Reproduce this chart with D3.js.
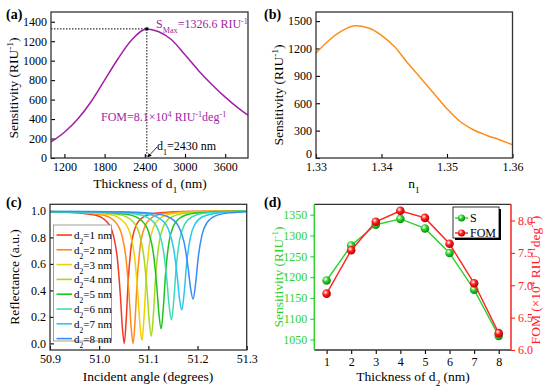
<!DOCTYPE html>
<html>
<head>
<meta charset="utf-8">
<script src="https://cdn.jsdelivr.net/npm/d3@7"></script>
<style>
  body { margin: 0; background: #fff; }
  svg, svg text { font-family: "Liberation Serif", "Times New Roman", serif; }
</style>
</head>
<body>
<svg id="fig" width="550" height="389"></svg>
<script>
// ---- (a) sensitivity vs thickness of d1
var thickD1 = [1000, 1200, 1400, 1600, 1800, 2000, 2200, 2430, 2600, 2800, 3000, 3200, 3400, 3600, 3800, 3940];
var sensD1  = [165, 265, 400, 580, 800, 1020, 1210, 1326.6, 1300, 1215, 1060, 900, 755, 625, 510, 440];
var ticksAx = [1200, 1800, 2400, 3000, 3600];
var ticksAy = [0, 200, 400, 600, 800, 1000, 1200, 1400];

// ---- (b) sensitivity vs n1
var n1     = [1.33, 1.332, 1.334, 1.336, 1.338, 1.340, 1.342, 1.344, 1.346, 1.348, 1.350, 1.352, 1.354, 1.356, 1.358, 1.36];
var sensN1 = [1150, 1290, 1395, 1448, 1425, 1345, 1220, 1040, 875, 708, 539, 400, 310, 250, 200, 146];
var ticksBx = [1.33, 1.34, 1.35, 1.36];
var ticksBy = [0, 300, 600, 900, 1200, 1500];

// ---- (c) reflectance curves, one per d2
var d2Labels = ["1", "2", "3", "4", "5", "6", "7", "8"];
var reflAngle = [
  [50.9, 50.931, 50.991, 51.016, 51.029, 51.037, 51.043, 51.047, 51.051, 51.055, 51.059, 51.065, 51.073, 51.086, 51.111, 51.171, 51.3],
  [50.9, 50.9454, 51.0072, 51.0329, 51.0463, 51.0546, 51.0608, 51.0649, 51.069, 51.0731, 51.0772, 51.0834, 51.0917, 51.1051, 51.1308, 51.1926, 51.3],
  [50.9, 50.9598, 51.0234, 51.0499, 51.0637, 51.0722, 51.0785, 51.0828, 51.087, 51.0912, 51.0955, 51.1018, 51.1103, 51.1241, 51.1506, 51.2142, 51.3],
  [50.9, 50.9752, 51.0406, 51.0678, 51.082, 51.0907, 51.0973, 51.1016, 51.106, 51.1104, 51.1147, 51.1213, 51.13, 51.1442, 51.1714, 51.2368, 51.3],
  [50.9, 50.9904, 51.0582, 51.0864, 51.1011, 51.1102, 51.117, 51.1215, 51.126, 51.1305, 51.135, 51.1418, 51.1509, 51.1656, 51.1938, 51.2616, 51.3],
  [50.9, 51.0054, 51.0762, 51.1057, 51.121, 51.1305, 51.1376, 51.1423, 51.147, 51.1517, 51.1564, 51.1635, 51.173, 51.1883, 51.2178, 51.2886, 51.3],
  [50.9, 51.0192, 51.0936, 51.1246, 51.1407, 51.1506, 51.1581, 51.163, 51.168, 51.173, 51.1779, 51.1854, 51.1953, 51.2114, 51.2424, 51.3],
  [50.9, 51.035, 51.113, 51.1455, 51.1624, 51.1728, 51.1806, 51.1858, 51.191, 51.1962, 51.2014, 51.2092, 51.2196, 51.2365, 51.269, 51.3]
];
var reflValue = [
  [0.990, 0.990, 0.970, 0.917, 0.814, 0.640, 0.367, 0.127, 0.000, 0.181, 0.470, 0.731, 0.870, 0.944, 0.980, 0.995, 0.999],
  [0.991, 0.990, 0.970, 0.917, 0.814, 0.640, 0.367, 0.127, 0.000, 0.181, 0.470, 0.731, 0.870, 0.944, 0.980, 0.995, 0.999],
  [0.991, 0.990, 0.971, 0.919, 0.818, 0.648, 0.381, 0.146, 0.022, 0.199, 0.482, 0.737, 0.873, 0.945, 0.980, 0.995, 0.998],
  [0.992, 0.991, 0.972, 0.922, 0.824, 0.660, 0.402, 0.175, 0.055, 0.226, 0.499, 0.746, 0.877, 0.947, 0.981, 0.995, 0.998],
  [0.993, 0.992, 0.973, 0.926, 0.835, 0.680, 0.437, 0.223, 0.110, 0.271, 0.528, 0.761, 0.884, 0.950, 0.982, 0.996, 0.998],
  [0.994, 0.992, 0.975, 0.932, 0.847, 0.704, 0.479, 0.282, 0.177, 0.326, 0.564, 0.779, 0.893, 0.954, 0.984, 0.996, 0.997],
  [0.995, 0.993, 0.978, 0.938, 0.861, 0.731, 0.527, 0.347, 0.252, 0.387, 0.604, 0.799, 0.903, 0.958, 0.985, 0.997],
  [0.996, 0.994, 0.980, 0.945, 0.876, 0.760, 0.578, 0.419, 0.334, 0.455, 0.647, 0.821, 0.913, 0.963, 0.987, 0.994]
];
var d2Colors = ["#f53a22", "#ff8a1e", "#f2d000", "#a6d81e", "#1ec41e", "#3cdcb4", "#2cc6f2", "#3a8cf0"];
var ticksCx = [50.9, 51.0, 51.1, 51.2, 51.3];
var ticksCy = [0, 0.2, 0.4, 0.6, 0.8, 1.0];

// ---- (d) S and FOM vs thickness of d2
var thickD2 = [1, 2, 3, 4, 5, 6, 7, 8];
var sensD2  = [1192, 1276, 1326, 1340, 1317, 1258, 1170, 1059];
var fomD2   = [6.87, 7.54, 7.98, 8.15, 8.04, 7.64, 7.03, 6.26];
var ticksDl = [1050, 1100, 1150, 1200, 1250, 1300, 1350];
var ticksDr = [6.0, 6.5, 7.0, 7.5, 8.0];

var svg = d3.select("#fig");
var SERIF = '"Liberation Serif", "Times New Roman", serif';
var purple = "#a01fa5", orange = "#ff8c1a", green = "#2ed12e", red = "#ff2020", frameCol = "#333";

// text with sub/superscripts: parts = [[str, "n"|"sub"|"sup"], ...]
function rich(sel, parts) {
  sel.style("font-family", SERIF);
  parts.forEach(function(p) {
    var t = sel.append("tspan").text(p[0]);
    if (p[1] === "sub") t.attr("baseline-shift", "sub").style("font-size", "0.68em");
    if (p[1] === "sup") t.attr("baseline-shift", "super").style("font-size", "0.68em");
  });
  return sel;
}

function styleAxis(g, col) {
  g.attr("font-family", null).attr("font-size", null);
  g.select(".domain").remove();
  g.selectAll(".tick line").attr("stroke", col).attr("stroke-width", 1.1);
  g.selectAll(".tick text").attr("fill", col).style("font-family", SERIF).style("font-size", "12px");
  return g;
}

function frame(x0, x1, y0, y1) {
  svg.append("rect").attr("x", x0).attr("y", y0).attr("width", x1 - x0).attr("height", y1 - y0)
    .attr("fill", "none").attr("stroke", frameCol).attr("stroke-width", 1.3);
}

function panelLabel(x, y, s) {
  svg.append("text").attr("x", x).attr("y", y).attr("font-weight", "bold")
    .style("font-family", SERIF).style("font-size", "14px").text(s);
}

function yTitle(x, y, col, parts) {
  rich(svg.append("text").attr("transform", "translate(" + x + "," + y + ") rotate(-90)")
    .attr("text-anchor", "middle").attr("fill", col).style("font-size", "13.5px"), parts);
}

function xTitle(x, y, parts) {
  rich(svg.append("text").attr("x", x).attr("y", y).attr("text-anchor", "middle").style("font-size", "13.5px"), parts);
}

var intFmt = d3.format("d");

// ================= (a)
var ax = d3.scaleLinear().domain([1000, 3940]).range([51, 248]);
var ay = d3.scaleLinear().domain([0, 1500]).range([158, 12]);
styleAxis(svg.append("g").attr("transform", "translate(0,158)")
  .call(d3.axisBottom(ax).tickValues(ticksAx).tickFormat(intFmt).tickSize(-4).tickPadding(4)), "#000");
styleAxis(svg.append("g").attr("transform", "translate(51,0)")
  .call(d3.axisLeft(ay).tickValues(ticksAy).tickFormat(intFmt).tickSize(-4).tickPadding(4)), "#000");

var peakY = d3.max(sensD1), peakX = thickD1[sensD1.indexOf(peakY)];
svg.append("path").attr("fill", "none").attr("stroke", "#000").attr("stroke-width", 1).attr("stroke-dasharray", "1.5,1.5")
  .attr("d", "M" + ax(1000) + "," + ay(peakY) + "H" + ax(peakX) + "V" + ay(0));
svg.append("path").datum(thickD1.map(function(d, i) { return [d, sensD1[i]]; }))
  .attr("fill", "none").attr("stroke", purple).attr("stroke-width", 1.5)
  .attr("d", d3.line().x(function(d) { return ax(d[0]); }).y(function(d) { return ay(d[1]); }).curve(d3.curveMonotoneX));
svg.append("rect").attr("x", ax(peakX) - 1.5).attr("y", ay(peakY) - 1.5).attr("width", 3).attr("height", 3).attr("fill", "#000");
frame(51, 248, 12, 158);

rich(svg.append("text").attr("x", 156).attr("y", 28).attr("fill", purple).style("font-size", "12px"),
  [["S", "n"], ["Max", "sub"], ["=1326.6 RIU", "n"], ["-1", "sup"]]);
rich(svg.append("text").attr("x", 101).attr("y", 121).attr("fill", purple).style("font-size", "12px"),
  [["FOM=8.1\u00d710", "n"], ["4", "sup"], [" RIU", "n"], ["-1", "sup"], ["deg", "n"], ["-1", "sup"]]);
rich(svg.append("text").attr("x", 157).attr("y", 150).attr("fill", "#000").style("font-size", "12px"),
  [["d", "n"], ["1", "sub"], ["=2430 nm", "n"]]);
svg.append("defs").append("marker").attr("id", "arr").attr("viewBox", "0 0 10 10").attr("refX", 9).attr("refY", 5)
  .attr("markerWidth", 5).attr("markerHeight", 5).attr("orient", "auto")
  .append("path").attr("d", "M0,0L10,5L0,10z").attr("fill", "#000");
svg.append("line").attr("x1", 157).attr("y1", 147).attr("x2", ax(peakX) + 1).attr("y2", 157)
  .attr("stroke", "#000").attr("stroke-width", 0.8).attr("marker-end", "url(#arr)");

panelLabel(6, 19, "(a)");
yTitle(18, 88, "#000", [["Sensitivity (RIU", "n"], ["-1", "sup"], [")", "n"]]);
xTitle(150, 188, [["Thickness of d", "n"], ["1", "sub"], [" (nm)", "n"]]);

// ================= (b)
var bx = d3.scaleLinear().domain([1.33, 1.36]).range([316, 512.5]);
var by = d3.scaleLinear().domain([0, 1600]).range([158, 12]);
styleAxis(svg.append("g").attr("transform", "translate(0,158)")
  .call(d3.axisBottom(bx).tickValues(ticksBx).tickFormat(d3.format(".2f")).tickSize(-4).tickPadding(4)), "#000");
var byAxis = styleAxis(svg.append("g").attr("transform", "translate(316,0)")
  .call(d3.axisLeft(by).tickValues(ticksBy).tickFormat(intFmt).tickSize(-4).tickPadding(4)), "#000");
// the "0" sits just above the first x label, as in the original
byAxis.selectAll(".tick text").filter(function(d) { return d === 0; }).attr("dy", "-0.05em");
svg.append("path").datum(n1.map(function(d, i) { return [d, sensN1[i]]; }))
  .attr("fill", "none").attr("stroke", orange).attr("stroke-width", 1.5)
  .attr("d", d3.line().x(function(d) { return bx(d[0]); }).y(function(d) { return by(d[1]); }).curve(d3.curveMonotoneX));
frame(316, 512.5, 12, 158);
panelLabel(264, 19, "(b)");
yTitle(283, 95, "#000", [["Sensitivity (RIU", "n"], ["-1", "sup"], [")", "n"]]);
xTitle(414, 188, [["n", "n"], ["1", "sub"]]);

// ================= (c)
var cx = d3.scaleLinear().domain([50.9, 51.3]).range([50, 246.7]);
var cy = d3.scaleLinear().domain([-0.05, 1.05]).range([350, 204.3]);
styleAxis(svg.append("g").attr("transform", "translate(0,350)")
  .call(d3.axisBottom(cx).tickValues(ticksCx).tickFormat(d3.format(".1f")).tickSize(-4).tickPadding(4)), "#000");
styleAxis(svg.append("g").attr("transform", "translate(50,0)")
  .call(d3.axisLeft(cy).tickValues(ticksCy).tickFormat(d3.format(".1f")).tickSize(-4).tickPadding(4)), "#000");
var cLine = d3.line().x(function(d) { return cx(d[0]); }).y(function(d) { return cy(d[1]); }).curve(d3.curveMonotoneX);
svg.append("g").selectAll("path").data(reflAngle).enter().append("path")
  .attr("fill", "none").attr("stroke", function(d, i) { return d2Colors[i]; }).attr("stroke-width", 1.5)
  .attr("d", function(a, i) { return cLine(a.map(function(v, j) { return [v, reflValue[i][j]]; })); });
frame(50, 246.7, 204.3, 350);

var legC = svg.append("g");
legC.append("rect").attr("x", 53.5).attr("y", 225).attr("width", 58).attr("height", 116)
  .attr("fill", "#fff").attr("stroke", "#888").attr("stroke-width", 0.8);
d2Labels.forEach(function(lab, i) {
  var yy = 235 + i * 14.8;
  legC.append("line").attr("x1", 56.5).attr("x2", 72).attr("y1", yy).attr("y2", yy)
    .attr("stroke", d2Colors[i]).attr("stroke-width", 1.6);
  rich(legC.append("text").attr("x", 74).attr("y", yy + 4).style("font-size", "11px"),
    [["d", "n"], ["2", "sub"], ["=" + lab + " nm", "n"]]);
});
panelLabel(6, 207, "(c)");
yTitle(19, 277, "#000", [["Reflectance (a.u.)", "n"]]);
xTitle(148, 381, [["Incident angle (degrees)", "n"]]);

// ================= (d)
var dx = d3.scaleLinear().domain([0.5, 8.5]).range([314.3, 511]);
var dyL = d3.scaleLinear().domain([1025, 1375]).range([350, 204.3]);
var dyR = d3.scaleLinear().domain([6.0, 8.25]).range([350, 204.3]);
styleAxis(svg.append("g").attr("transform", "translate(0,350)")
  .call(d3.axisBottom(dx).tickValues(thickD2).tickFormat(intFmt).tickSize(4).tickPadding(3)), "#000");
styleAxis(svg.append("g").attr("transform", "translate(314.3,0)")
  .call(d3.axisLeft(dyL).tickValues(ticksDl).tickFormat(intFmt).tickSize(4).tickPadding(3)), green);
styleAxis(svg.append("g").attr("transform", "translate(511,0)")
  .call(d3.axisRight(dyR).tickValues(ticksDr).tickFormat(d3.format(".1f")).tickSize(4).tickPadding(3)), red);
svg.append("line").attr("x1", 314.3).attr("x2", 511).attr("y1", 204.3).attr("y2", 204.3).attr("stroke", frameCol).attr("stroke-width", 1.3);
svg.append("line").attr("x1", 314.3).attr("x2", 511).attr("y1", 350).attr("y2", 350).attr("stroke", frameCol).attr("stroke-width", 1.3);
svg.append("line").attr("x1", 314.3).attr("x2", 314.3).attr("y1", 204.3).attr("y2", 350).attr("stroke", green).attr("stroke-width", 1.5);
svg.append("line").attr("x1", 511).attr("x2", 511).attr("y1", 204.3).attr("y2", 350).attr("stroke", red).attr("stroke-width", 1.5);

var defs = svg.append("defs");
[["gG", green, "#0c8a0c"], ["gR", red, "#b50000"]].forEach(function(g) {
  var rg = defs.append("radialGradient").attr("id", g[0]).attr("cx", "38%").attr("cy", "35%").attr("r", "65%");
  rg.append("stop").attr("offset", "0%").attr("stop-color", "#ffffff");
  rg.append("stop").attr("offset", "45%").attr("stop-color", g[1]);
  rg.append("stop").attr("offset", "100%").attr("stop-color", g[2]);
});

function series(vals, scaleY, col, grad) {
  svg.append("path").datum(thickD2.map(function(d, i) { return [d, vals[i]]; }))
    .attr("fill", "none").attr("stroke", col).attr("stroke-width", 1.4)
    .attr("d", d3.line().x(function(d) { return dx(d[0]); }).y(function(d) { return scaleY(d[1]); }));
  svg.append("g").selectAll("circle").data(thickD2).enter().append("circle")
    .attr("cx", function(d) { return dx(d); }).attr("cy", function(d, i) { return scaleY(vals[i]); })
    .attr("r", 4.3).attr("fill", "url(#" + grad + ")");
}
series(sensD2, dyL, green, "gG");
series(fomD2, dyR, red, "gR");

var legD = svg.append("g");
legD.append("rect").attr("x", 455).attr("y", 209).attr("width", 46).attr("height", 31).attr("fill", "#000");
legD.append("rect").attr("x", 453).attr("y", 207).attr("width", 46).attr("height", 31)
  .attr("fill", "#fff").attr("stroke", "#000").attr("stroke-width", 0.8);
[["S", green, "gG", 218], ["FOM", red, "gR", 233]].forEach(function(e) {
  legD.append("line").attr("x1", 455).attr("x2", 468).attr("y1", e[3]).attr("y2", e[3]).attr("stroke", e[1]).attr("stroke-width", 1.4);
  legD.append("circle").attr("cx", 461.5).attr("cy", e[3]).attr("r", 3.6).attr("fill", "url(#" + e[2] + ")");
  legD.append("text").attr("x", 470).attr("y", e[3] + 4.3).style("font-family", SERIF).style("font-size", "12px").text(e[0]);
});

panelLabel(264, 207, "(d)");
yTitle(283, 277, green, [["Sensitivity (RIU", "n"], ["-1", "sup"], [")", "n"]]);
yTitle(540, 280, red, [["FOM (\u00d710", "n"], ["4", "sup"], [" RIU", "n"], ["-1", "sup"], ["deg", "n"], ["-1", "sup"], [")", "n"]]);
xTitle(413, 381, [["Thickness of d", "n"], ["2", "sub"], [" (nm)", "n"]]);
</script>
</body>
</html>
